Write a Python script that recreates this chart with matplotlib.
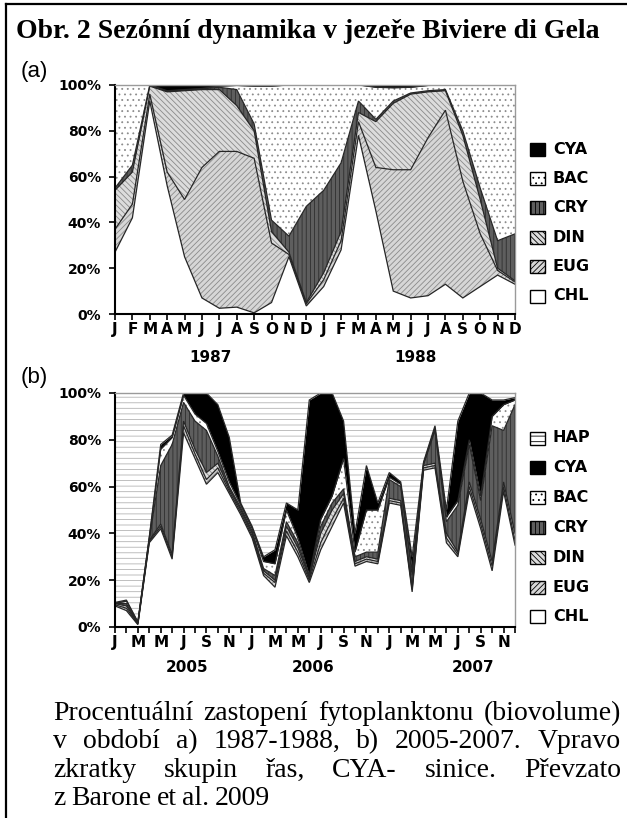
import numpy as np
import matplotlib
matplotlib.use("Agg")
import matplotlib.pyplot as plt
from matplotlib.patches import Rectangle
from matplotlib.lines import Line2D

# --- data: upper edge of every band, in % (cumulative) ---
# panel (a): Jan 1987 .. Dec 1988, one value per month
months_a = list(range(24))
chl_a = [27, 42, 93, 56, 25, 7, 2.5, 3, 0.5, 5, 25, 3.5, 12, 28, 78, 45, 10, 7, 8, 13, 7, 12, 17, 13]
eug_a = [37, 48, 96, 62, 50, 64, 71, 71, 68, 31, 26, 4.5, 15, 32, 84, 64, 63, 63, 77, 89, 58, 35, 19, 14]
din_a = [54, 62, 99.5, 97, 97.5, 98, 98, 91, 80, 36, 27, 5, 18, 36, 88, 84, 92, 96, 97, 97.5, 78, 50, 20, 14.5]
cry_a = [55, 65, 100, 97.3, 97.8, 98.3, 99, 98, 83, 41, 34, 47, 54, 66, 93, 85, 93, 96.5, 97.5, 98, 80, 55, 32, 35]
bac_a = [100, 100, 100, 97.5, 98, 98.5, 99.5, 99.8, 99.5, 99.5, 100, 100, 100, 100, 100, 99, 98.8, 99, 99.8, 100, 100, 100, 100, 100]

# panel (b): Jan 2005 .. Dec 2007, one value per month
months_b = list(range(36))
chl_b = [9, 7, 1, 36, 42, 29, 83, 72, 61, 66, 57, 48, 38, 22, 17, 39, 30, 19, 33, 43, 53, 26, 28, 27,
         53, 52, 15, 67, 68, 36, 30, 58, 42, 24, 58, 35]
eug_b = [9.5, 8, 1.3, 36.5, 43, 30, 86, 74, 63, 68, 58, 49, 39, 23, 19, 41, 32, 20, 36, 46, 55, 27, 29, 28,
         54, 53, 16, 68, 69, 38, 31, 60, 44, 26, 60, 37]
din_b = [10, 9, 1.6, 37, 44, 31, 88, 76, 66, 70, 59, 50, 40, 24, 20, 43, 34, 21, 40, 50, 57, 28, 30, 29,
         55, 54, 17, 69, 70, 40, 32, 62, 46, 28, 62, 40]
cry_b = [10, 10, 1.8, 37.5, 69, 78, 96, 88, 84, 73, 60, 51, 41, 25, 22, 45, 36, 21.5, 43, 53, 59, 30, 32, 32,
         63, 60, 22, 69.5, 84, 45, 52, 78, 54, 86, 84, 95]
bac_b = [10.2, 11, 2, 38, 76, 81, 99, 91, 87, 75, 62, 52, 42, 28, 27, 50, 38, 22, 46, 56, 72, 32, 50, 50,
         64, 61, 24, 70, 85, 47, 54, 80, 56, 90, 95, 97]
cya_b = [10.5, 11.5, 2.2, 38.5, 78, 82, 100, 100, 100, 95, 81, 53, 43, 30, 33, 53, 50, 97, 100, 100, 88, 40, 69, 53,
         66, 62, 30, 70.5, 86, 50, 88, 100, 100, 97, 97, 98]

letters_a = ['J', 'F', 'M', 'A', 'M', 'J', 'J', 'A', 'S', 'O', 'N', 'D'] * 2
letters_b = ['J', 'M', 'M', 'J', 'S', 'N'] * 3
years_a = ['1987', '1988']
years_b = ['2005', '2006', '2007']
groups_a = ['CYA', 'BAC', 'CRY', 'DIN', 'EUG', 'CHL']
groups_b = ['HAP', 'CYA', 'BAC', 'CRY', 'DIN', 'EUG', 'CHL']

title = 'Obr. 2 Sezónní dynamika v jezeře Biviere di Gela'
caption = [
    'Procentuální zastopení fytoplanktonu (biovolume)',
    'v období a) 1987-1988, b) 2005-2007. Vpravo',
    'zkratky skupin řas, CYA- sinice. Převzato',
    'z Barone et al. 2009',
]

# --- look of each group (face, hatch, hatch colour) ---
style = {
    'CHL': ('white', None, 'white'),
    'EUG': ('#d6d6d6', '//////', '#8a8a8a'),
    'DIN': ('#dcdcdc', '\\\\\\\\\\\\', '#8a8a8a'),
    'CRY': ('#5e5e5e', '||||', '#2e2e2e'),
    'BAC': ('white', '...', '#8c8c8c'),
    'CYA': ('black', None, 'black'),
    'HAP': ('white', '---', '#b4b4b4'),
}

plt.rcParams['hatch.linewidth'] = 0.6
W, H = 627, 818
fig = plt.figure(figsize=(W / 100, H / 100), dpi=100)


def px(x, y):
    return x / W, 1 - y / H


def stack(ax, x, tops, names):
    prev = np.zeros(len(x))
    for top, name in zip(tops + [None], names):
        fc, hatch, hc = style[name]
        upper = 100 if top is None else np.asarray(top, dtype=float)
        ax.fill_between(x, prev, upper, facecolor=fc, hatch=hatch, edgecolor=hc, linewidth=0)
        prev = upper
    for top in tops:
        ax.plot(x, top, color='#262626', lw=0.9, solid_joinstyle='miter')


def setup(ax, xmax):
    ax.set_xlim(0, xmax)
    ax.set_ylim(0, 100)
    ax.set_yticks([0, 20, 40, 60, 80, 100])
    ax.set_yticklabels(['0%', '20%', '40%', '60%', '80%', '100%'])
    for s in ['left', 'bottom']:
        ax.spines[s].set_linewidth(1.5)
        ax.spines[s].set_color('black')
    for s in ['top', 'right']:
        ax.spines[s].set_linewidth(1.0)
        ax.spines[s].set_color('#9a9a9a')
    ax.tick_params(axis='y', direction='out', length=4, width=1.2, pad=6, labelsize=10)
    ax.tick_params(axis='x', which='both', direction='out', length=4, width=1.2, pad=2, labelsize=11)
    for t in ax.get_xticklabels() + ax.get_yticklabels():
        t.set_fontweight('bold')


def legend(names, y0, dy):
    for i, name in enumerate(names):
        fc, hatch, hc = style[name]
        y = y0 + i * dy
        x0, y1 = px(530, y + 6.5)
        r = Rectangle((x0, y1), 15 / W, 13 / H, transform=fig.transFigure, facecolor=fc,
                      hatch=hatch, edgecolor='black', lw=1.0)
        fig.add_artist(r)
        fig.text(*px(553, y), name, fontsize=11.5, fontweight='bold', va='center', ha='left')


# panel (a)
ax_a = fig.add_axes([115 / W, 1 - 314 / H, 400 / W, 229 / H])
stack(ax_a, months_a, [chl_a, eug_a, din_a, cry_a, bac_a], ['CHL', 'EUG', 'DIN', 'CRY', 'BAC', 'CYA'])
ax_a.set_xticks(months_a)
ax_a.set_xticklabels(letters_a)
setup(ax_a, 23)
for yr, xm in zip(years_a, [5.5, 17.3]):
    ax_a.text(xm, -0.188, yr, transform=ax_a.get_xaxis_transform(), ha='center', va='center',
              fontsize=11, fontweight='bold')
legend(groups_a, 149, 29.4)

# panel (b)
ax_b = fig.add_axes([115 / W, 1 - 627 / H, 400 / W, 234 / H])
stack(ax_b, months_b, [chl_b, eug_b, din_b, cry_b, bac_b, cya_b],
      ['CHL', 'EUG', 'DIN', 'CRY', 'BAC', 'CYA', 'HAP'])
ax_b.set_xticks(months_b[::2])
ax_b.set_xticklabels(letters_b)
ax_b.set_xticks(months_b[1::2], minor=True)
setup(ax_b, 35)
for yr, xm in zip(years_b, [6.3, 17.3, 31.3]):
    ax_b.text(xm, -0.175, yr, transform=ax_b.get_xaxis_transform(), ha='center', va='center',
              fontsize=11, fontweight='bold')
legend(groups_b, 438, 29.8)

# panel letters
fig.text(*px(21, 71), '(a)', fontsize=16, family='Liberation Sans', va='center', ha='left')
fig.text(*px(21, 377), '(b)', fontsize=16, family='Liberation Sans', va='center', ha='left')

# title
fig.text(*px(16, 38), title, fontsize=20, fontweight='bold', family='Liberation Serif', va='baseline')

# caption, justified like the source
renderer = fig.canvas.get_renderer()
for i, line in enumerate(caption):
    yb = 720 + i * 28.3
    words = line.split()
    texts = [fig.text(*px(53, yb), w, fontsize=20, family='Liberation Serif', va='baseline')
             for w in words]
    if i == len(caption) - 1:
        space = 5.5
    else:
        widths = [t.get_window_extent(renderer).width for t in texts]
        space = (621 - 53 - sum(widths)) / (len(words) - 1)
    x = 53
    for t in texts:
        t.set_x(x / W)
        x += t.get_window_extent(renderer).width + space

# frame: top and left border
fig.add_artist(Line2D([6 / W, 1], [1 - 4 / H, 1 - 4 / H], transform=fig.transFigure, color='black', lw=1.6))
fig.add_artist(Line2D([6 / W, 6 / W], [1 - 4 / H, 0], transform=fig.transFigure, color='black', lw=1.6))

fig.savefig('out.png', dpi=100)
